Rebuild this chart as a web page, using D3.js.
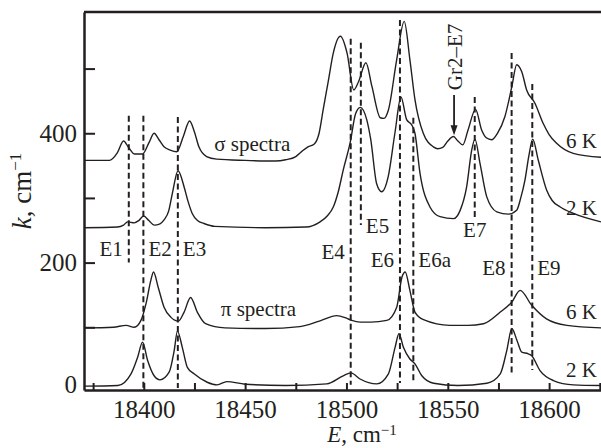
<!DOCTYPE html>
<html>
<head>
<meta charset="utf-8">
<script src="https://cdn.jsdelivr.net/npm/d3@7"></script>
<style>
    body { margin: 0; background: #fff; }
    text { font-family: "Liberation Serif", "Times New Roman", serif; fill: #231f20; }
</style>
</head>
<body>
<div id="chart-area"></div>
<script>
// absorption spectra, [E (cm-1), k (cm-1)]
const sigma6K = [
    [18370.5, 358], [18383, 358], [18387, 370], [18390, 388], [18392.5, 378], [18395.3, 368],
    [18399.4, 368], [18402.5, 385], [18405.1, 400], [18407.5, 390], [18410, 379], [18413, 374],
    [18416.3, 371.5], [18419.5, 395], [18422.6, 419], [18425, 402], [18427.2, 379], [18431, 364],
    [18436, 360], [18450, 358], [18465, 357], [18470, 359], [18475, 364], [18478, 372],
    [18481, 379], [18484, 383], [18486.5, 400], [18488.5, 436], [18491, 480], [18493.5, 524],
    [18497, 550], [18500.3, 524], [18503.6, 467], [18506, 480], [18509.6, 509], [18512.6, 472],
    [18516.7, 424], [18518.5, 423], [18520.7, 436], [18524.8, 514], [18528.5, 573], [18531.3, 514],
    [18533.8, 452], [18537.9, 400], [18542.9, 379], [18545, 376], [18547.5, 378], [18550, 388],
    [18552.8, 395], [18555, 388], [18557.4, 382], [18560, 405], [18563.7, 437], [18566.7, 405],
    [18569, 393], [18571.6, 390], [18574.5, 400], [18578.2, 426], [18581.6, 472], [18584, 506],
    [18586.5, 495], [18588.9, 467], [18593, 446.5], [18597.1, 415], [18600, 398], [18603.7, 384.5],
    [18611.9, 369], [18625.6, 363]
];

const sigma2K = [
    [18370.5, 254], [18387, 255], [18390, 258], [18392, 263], [18395.3, 261.5], [18397.5, 265],
    [18399.9, 272], [18402.5, 265], [18405.1, 258], [18408, 260], [18410, 266], [18412.3, 280],
    [18414.1, 307], [18416.9, 342], [18419.9, 317], [18421.8, 295], [18423.9, 276], [18426.5, 265],
    [18429.7, 260.5], [18435, 256], [18460, 254], [18480, 255], [18487, 263], [18490.5, 272],
    [18493.5, 286], [18496, 310], [18498.4, 343], [18501.8, 385], [18504.5, 430], [18506.8, 440],
    [18510, 421], [18512, 390], [18514.9, 322], [18517.4, 309.5], [18520.6, 333], [18523.9, 400],
    [18526.9, 456], [18529.7, 421], [18532.2, 413], [18533.8, 400], [18536.3, 338], [18541.2, 286],
    [18546.2, 271], [18552.8, 268], [18556, 280], [18559.3, 317], [18561.8, 374], [18563.4, 391],
    [18565.9, 353.5], [18569.2, 302], [18574.2, 278.5], [18579.9, 275], [18584, 281], [18586, 300],
    [18588.1, 328], [18590, 365], [18591.9, 391], [18594.6, 359], [18598.8, 312], [18601.5, 296],
    [18605.5, 286], [18612, 276], [18625.6, 263]
];

const pi6K = [
    [18370.5, 99], [18385, 100], [18391.3, 103], [18395.3, 100], [18398.6, 110.6], [18401.1, 136.5],
    [18403.5, 173], [18404.8, 185.5], [18407.1, 162], [18410, 131], [18413.3, 115.7], [18417.1, 109.5],
    [18419.9, 123.5], [18423.1, 146], [18426.4, 123.5], [18430.5, 105.5], [18440, 99], [18460, 98],
    [18477, 101], [18487, 110], [18495.2, 118], [18500, 114], [18502.6, 110.6], [18506.8, 108],
    [18512, 108], [18519.9, 110.6], [18524.8, 131], [18527.4, 177.7], [18529, 185.5], [18531.3, 157],
    [18533.8, 123.5], [18538, 111.7], [18551, 103], [18560, 103], [18567.6, 105.5], [18575.9, 123.5],
    [18581.6, 139], [18585.7, 157], [18591.4, 134], [18598.7, 113], [18608.8, 103], [18625.6, 99]
];

const pi2K = [
    [18370.5, 9], [18387.2, 10], [18393.7, 28], [18397, 54], [18399.4, 77], [18401.9, 48.6],
    [18405.1, 25], [18408, 18.7], [18412.5, 30.5], [18415, 64], [18416.6, 94], [18419, 69],
    [18421.5, 38], [18424.8, 28], [18431.3, 15], [18436.2, 11], [18441, 16], [18450, 12],
    [18470, 10], [18490.3, 12.5], [18498.4, 25], [18502.2, 29.5], [18506.7, 20], [18515, 12.5],
    [18520.7, 28], [18524, 69], [18525.9, 90], [18528.1, 69], [18531.3, 51], [18533.8, 43.5],
    [18537.2, 25], [18543, 13.5], [18555, 10], [18569.3, 13.5], [18575.9, 28], [18579.1, 64],
    [18581.6, 98], [18584.1, 80], [18586.5, 61.5], [18589.7, 59], [18591.4, 56], [18595.5, 33],
    [18602.1, 17.6], [18612, 11], [18625.6, 10]
];

// dashed markers
const markerNames = ["E1", "E2", "E3", "E4", "E5", "E6", "E6a", "E7", "E8", "E9"];
const markerE = [18392.6, 18399.8, 18416.8, 18502.1, 18507.1, 18526.4, 18533.0, 18563.3, 18581.5, 18591.7];
const markerTop = [427, 427, 425, 546, 540, 575, 424, 456, 524, 476];
const markerBottom = [200, 6, 6, 11, 258, 14, 16, 266, 29, 34];
// where the name sits (k level of the baseline) and which side of the line
const markerLabelK = [210, 210, 210, 206, 246, 193, 193, 240, 181, 181];
const markerLabelSide = ["left", "right", "right", "left", "right", "left", "right", "middle", "left", "right"];

const xTickValues = [18375, 18400, 18425, 18450, 18475, 18500, 18525, 18550, 18575, 18600, 18625];
const xTickLabels = [18400, 18450, 18500, 18550, 18600];
const yTickValues = [0, 100, 200, 300, 400, 500];
const yTickLabels = [0, 200, 400];

const W = 601, H = 448;
const margin = { top: 12, right: 0, bottom: 58, left: 84 };

let svg = d3.select("#chart-area").append("svg")
    .attr("width", W)
    .attr("height", H);

let x = d3.scaleLinear()
    .domain([18370.5, 18625.6])
    .range([margin.left, W - margin.right]);

let y = d3.scaleLinear()
    .domain([3, 587.5])
    .range([H - margin.bottom, margin.top]);

let ink = "#231f20";

// top border
svg.append("line")
    .attr("x1", margin.left).attr("x2", W)
    .attr("y1", margin.top).attr("y2", margin.top)
    .attr("stroke", ink).attr("stroke-width", 2.5);

// x axis
let xAxis = d3.axisBottom(x)
    .tickValues(xTickValues)
    .tickSize(-7)
    .tickSizeOuter(0)
    .tickPadding(10)
    .tickFormat(d => xTickLabels.includes(d) ? d : "");

let gx = svg.append("g")
    .attr("class", "x-axis")
    .attr("transform", "translate(0," + (H - margin.bottom) + ")")
    .call(xAxis);

// y axis
let yAxis = d3.axisLeft(y)
    .tickValues(yTickValues)
    .tickSize(-11)
    .tickSizeOuter(0)
    .tickPadding(7)
    .tickFormat(d => yTickLabels.includes(d) ? d : "");

let gy = svg.append("g")
    .attr("class", "y-axis")
    .attr("transform", "translate(" + margin.left + ",0)")
    .call(yAxis);

svg.selectAll(".x-axis, .y-axis").attr("font-family", null).attr("font-size", null);
svg.selectAll(".domain").attr("stroke", ink).attr("stroke-width", 2.5);
svg.selectAll(".tick line").attr("stroke", ink).attr("stroke-width", 2);
svg.selectAll(".tick text").style("font-size", "25px").attr("fill", ink);

// the 0 tick sits on the axis: hide its line, lift its label
gy.selectAll(".tick").filter(d => d === 0).select("line").remove();
gy.selectAll(".tick").filter(d => d === 0).select("text").attr("y", -7);

// spectra
let line = d3.line()
    .x(d => x(d[0]))
    .y(d => y(d[1]))
    .curve(d3.curveMonotoneX);

[sigma6K, sigma2K, pi6K, pi2K].forEach(function (series) {
    svg.append("path")
        .datum(series)
        .attr("fill", "none")
        .attr("stroke", ink)
        .attr("stroke-width", 1.4)
        .attr("stroke-linejoin", "round")
        .attr("d", line);
});

// dashed markers and their names
markerNames.forEach(function (name, i) {
    svg.append("line")
        .attr("x1", x(markerE[i])).attr("x2", x(markerE[i]))
        .attr("y1", y(markerTop[i])).attr("y2", y(markerBottom[i]))
        .attr("stroke", ink)
        .attr("stroke-width", 2)
        .attr("stroke-dasharray", "6,3.5");

    let side = markerLabelSide[i];
    let dx = side === "left" ? -6 : (side === "right" ? 5 : 0);
    svg.append("text")
        .attr("x", x(markerE[i]) + dx)
        .attr("y", y(markerLabelK[i]))
        .attr("text-anchor", side === "left" ? "end" : (side === "right" ? "start" : "middle"))
        .style("font-size", "21px")
        .text(name);
});

// series labels
let notes = [
    { e: 18453.5, k: 372.5, text: "\u03c3 spectra", anchor: "middle" },
    { e: 18456.6, k: 117.6, text: "\u03c0 spectra", anchor: "middle" },
    { e: 18623.6, k: 377, text: "6 K", anchor: "end" },
    { e: 18623.6, k: 273.7, text: "2 K", anchor: "end" },
    { e: 18623.6, k: 113, text: "6 K", anchor: "end" },
    { e: 18623.6, k: 23, text: "2 K", anchor: "end" }
];

notes.forEach(function (n) {
    svg.append("text")
        .attr("x", x(n.e))
        .attr("y", y(n.k))
        .attr("text-anchor", n.anchor)
        .style("font-size", "21px")
        .text(n.text);
});

// Gr2-E7 with arrow
let gr = { e: 18553.1, textK: 518, fromK: 459, toK: 397 };
svg.append("text")
    .attr("transform", "translate(" + (x(gr.e) + 7.5) + "," + y(gr.textK) + ") rotate(-90)")
    .attr("text-anchor", "middle")
    .style("font-size", "21px")
    .text("Gr2\u2013E7");

svg.append("line")
    .attr("x1", x(gr.e)).attr("x2", x(gr.e))
    .attr("y1", y(gr.fromK)).attr("y2", y(gr.toK) - 8)
    .attr("stroke", ink).attr("stroke-width", 1.8);

svg.append("path")
    .attr("d", "M" + (x(gr.e) - 3.5) + "," + (y(gr.toK) - 10) +
        "L" + (x(gr.e) + 3.5) + "," + (y(gr.toK) - 10) +
        "L" + x(gr.e) + "," + y(gr.toK) + "Z")
    .attr("fill", ink);

// axis titles
let yTitle = svg.append("text")
    .attr("transform", "translate(31,191) rotate(-90)")
    .attr("text-anchor", "middle")
    .style("font-size", "27px");
yTitle.append("tspan").style("font-style", "italic").text("k");
yTitle.append("tspan").text(", cm");
yTitle.append("tspan").attr("dy", -10).style("font-size", "17px").text("\u22121");

let xTitle = svg.append("text")
    .attr("x", 362)
    .attr("y", 442)
    .attr("text-anchor", "middle")
    .style("font-size", "23px");
xTitle.append("tspan").style("font-style", "italic").text("E");
xTitle.append("tspan").text(", cm");
xTitle.append("tspan").attr("dy", -7).style("font-size", "15px").text("\u22121");
</script>
</body>
</html>
